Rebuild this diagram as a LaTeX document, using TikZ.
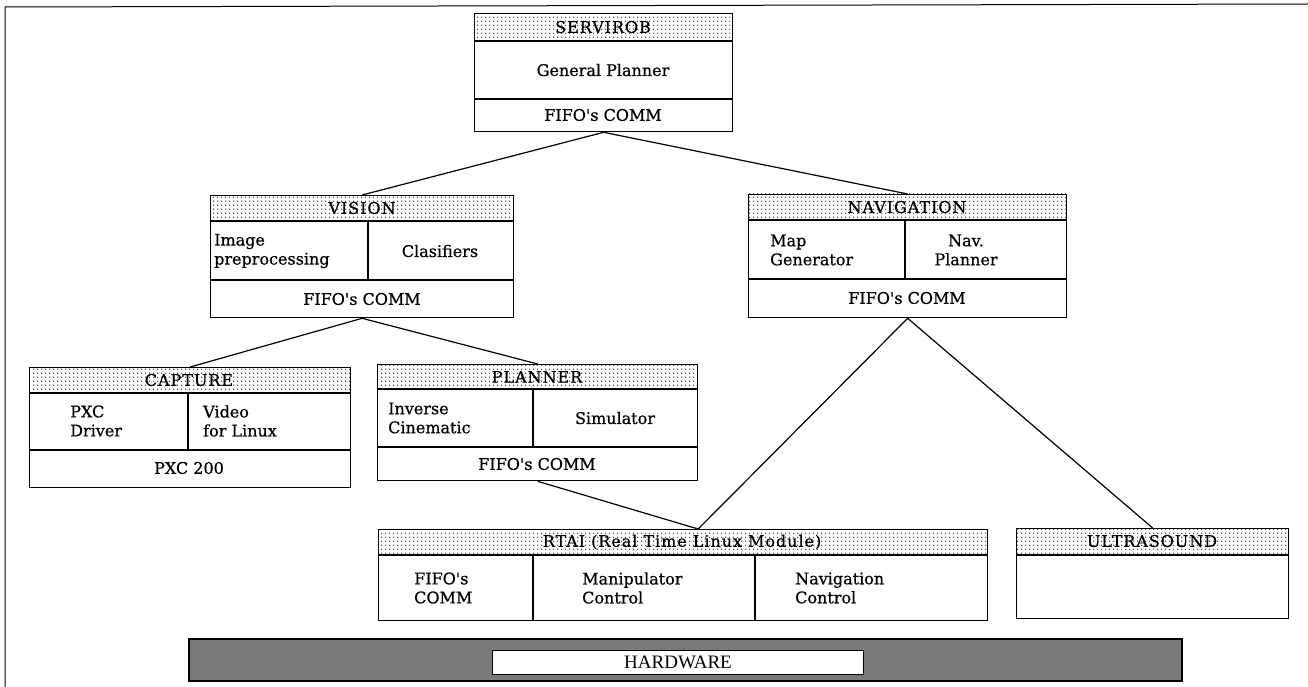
\documentclass[tikz,border=0pt]{standalone}
\usepackage{fontspec}
\setmainfont{DejaVu Serif}[FakeBold=0.6]
\newfontfamily\hwfont{Liberation Serif}
\newfontfamily\hdfont{DejaVu Serif}[LetterSpace=6,FakeBold=0.6]
\usetikzlibrary{patterns.meta,calc}
\tikzdeclarepattern{name=hdots,type=uncolored,bounding box={(0pt,0pt) and (4pt,4pt)},tile size={(4pt,4pt)},code={\fill (2pt,2pt) circle (0.9pt);}}
\newcommand{\apos}{\textquotesingle}
\begin{document}
\begin{tikzpicture}[x=1pt,y=-1pt,
  font=\fontsize{16}{19}\selectfont,
  box/.style={draw, line width=1.3pt, inner sep=0pt, anchor=north west},
  hdr/.style={pattern={hdots}, pattern color=black!75},
  lbl/.style={inner sep=0pt, anchor=center},
  htxt/.style={inner sep=0pt, anchor=center, font=\hdfont\fontsize{16}{19}\selectfont},
  two/.style={inner sep=0pt, align=left, anchor=west},
  sep/.style={line width=1.3pt},
  link/.style={line width=1.2pt}]
\useasboundingbox (0,0) rectangle (1308,687);
% outer frame
\draw[line width=1pt] (1308,4) -- (5,7) -- (5,687);

% ---------- SERVIROB
\path[hdr] (474,13) rectangle (732,41);
\node[box, minimum width=258pt, minimum height=118pt] (serv) at (474,13) {};
\draw[sep] (474,41) -- (732,41) (474,99) -- (732,99);
\node[htxt] (servT) at (603,27) {SERVIROB};
\node[lbl] (servA) at (603,70) {General Planner};
\node[lbl] (servB) at (603,115) {FIFO\apos s COMM};

% ---------- VISION
\path[hdr] (210,195) rectangle (513,221);
\node[box, minimum width=303pt, minimum height=122pt] (vis) at (210,195) {};
\draw[sep] (210,221) -- (513,221) (210,280) -- (513,280) (368,221) -- (368,280);
\node[htxt] (visT) at (362,208) {VISION};
\node[two] (visA) at (214,251) {Image\\preprocessing};
\node[lbl] (visB) at (440,251) {Clasifiers};
\node[lbl] (visC) at (362,299) {FIFO\apos s COMM};

% ---------- NAVIGATION
\path[hdr] (748,194) rectangle (1066,220);
\node[box, minimum width=318pt, minimum height=123pt] (nav) at (748,194) {};
\draw[sep] (748,220) -- (1066,220) (748,279) -- (1066,279) (905,220) -- (905,279);
\node[htxt] (navT) at (907,207) {NAVIGATION};
\node[two] (navA) at (770,250) {Map\\Generator};
\node[inner sep=0pt, align=center] (navB) at (966,250) {Nav.\\Planner};
\node[lbl] (navC) at (907,298) {FIFO\apos s COMM};

% ---------- CAPTURE
\path[hdr] (29,367) rectangle (350,393);
\node[box, minimum width=321pt, minimum height=120pt] (cap) at (29,367) {};
\draw[sep] (29,393) -- (350,393) (29,450) -- (350,450) (188,393) -- (188,450);
\node[htxt] (capT) at (189,380) {CAPTURE};
\node[two] (capA) at (70,421) {PXC\\Driver};
\node[two] (capB) at (203,421) {Video\\for Linux};
\node[lbl] (capC) at (189,468) {PXC 200};

% ---------- PLANNER
\path[hdr] (377,364) rectangle (697,389);
\node[box, minimum width=320pt, minimum height=116pt] (plan) at (377,364) {};
\draw[sep] (377,389) -- (697,389) (377,447) -- (697,447) (533,389) -- (533,447);
\node[htxt] (planT) at (537,377) {PLANNER};
\node[two] (planA) at (388,418) {Inverse\\Cinematic};
\node[lbl] (planB) at (615,418) {Simulator};
\node[lbl] (planC) at (537,464) {FIFO\apos s COMM};

% ---------- RTAI
\path[hdr] (378,529) rectangle (987,555);
\node[box, minimum width=609pt, minimum height=91pt] (rtai) at (378,529) {};
\draw[sep] (378,555) -- (987,555) (533,555) -- (533,620) (755,555) -- (755,620);
\node[htxt] (rtaiT) at (682,542) {RTAI (Real Time Linux Module)};
\node[two] (rtaiA) at (414,588) {FIFO\apos s\\COMM};
\node[two] (rtaiB) at (582,588) {Manipulator\\Control};
\node[two] (rtaiC) at (795,588) {Navigation\\Control};

% ---------- ULTRASOUND
\path[hdr] (1016,528) rectangle (1288,555);
\node[box, minimum width=272pt, minimum height=90pt] (ult) at (1016,528) {};
\draw[sep] (1016,555) -- (1288,555);
\node[htxt] (ultT) at (1152,541) {ULTRASOUND};

% ---------- HARDWARE
\node[box, line width=2.2pt, fill=black!52, minimum width=993pt, minimum height=42pt] (hwbar) at (188,638) {};
\node[box, line width=1pt, fill=white, minimum width=371pt, minimum height=24pt] (hwbox) at (492,650) {};
\node[lbl, font=\hwfont\fontsize{19}{22}\selectfont] (hwT) at (hwbox.center) {HARDWARE};

% ---------- connectors
\draw[link] (serv.south) -- (vis.north);
\draw[link] (serv.south) -- (nav.north);
\draw[link] (vis.south) -- (cap.north);
\draw[link] (vis.south) -- (plan.north);
\draw[link] (nav.south) -- ([xshift=15pt]rtai.north);
\draw[link] (nav.south) -- (ult.north);
\draw[link] (plan.south) -- ([xshift=15pt]rtai.north);
\end{tikzpicture}
\end{document}
